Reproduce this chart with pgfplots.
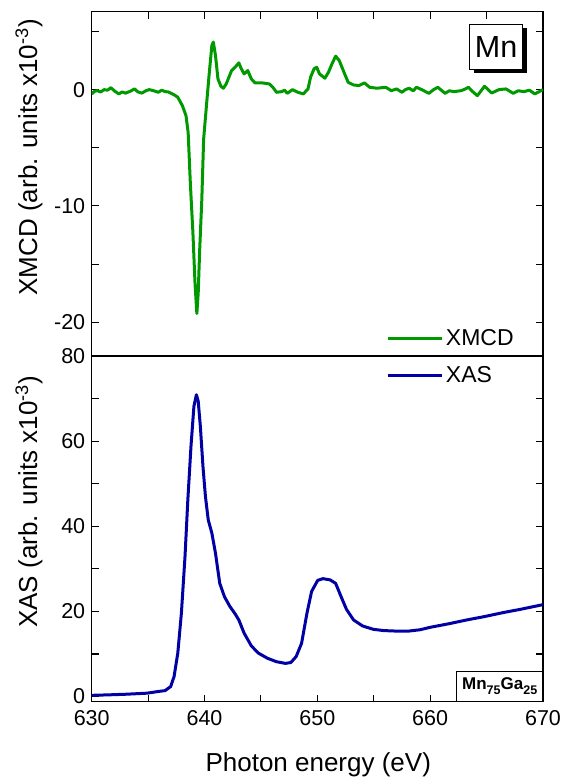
\documentclass[border=0pt]{standalone}
\usepackage{pgfplots}
\pgfplotsset{compat=1.18}
\usepackage{fontspec}
\setmainfont{Liberation Sans}
\usetikzlibrary{shadows}
\definecolor{xgreen}{RGB}{0,153,0}
\definecolor{xblue}{RGB}{0,0,165}
\newcommand{\tickfont}{\fontsize{21.5}{25}\selectfont}
\newcommand{\labfont}{\fontsize{26}{30}\selectfont}
\newcommand{\legfont}{\fontsize{23}{27}\selectfont}
\newcommand{\sub}[1]{\raisebox{-0.28em}{\fontsize{12.5}{13}\selectfont #1}}
\begin{document}
\begin{tikzpicture}
\pgfplotsset{
  common/.style={
    scale only axis, width=451.3pt,
    xmin=630, xmax=670,
    xtick={630,640,650,660,670}, minor x tick num=1,
    tick align=inside, major tick length=7pt, minor tick length=7pt,
    axis line style={line width=1.1pt}, every tick/.style={line width=1.1pt, black},
    ytick pos=both, yticklabel pos=left,
    /pgf/number format/assume math mode=true,
    ticklabel style={font=\tickfont},
    yticklabel style={xshift=-3pt},
    xticklabel style={yshift=-5pt},
    legend style={draw=none, fill=none, font=\legfont, inner sep=0pt, row sep=0pt,
      nodes={inner sep=2pt}},
    legend image code/.code={\draw[#1] (0pt,0pt) -- (54pt,0pt);},
    legend cell align=left,
  }
}
\begin{axis}[common, at={(0pt,345.7pt)}, anchor=south west, height=344.3pt,
  ymin=-22.9, ymax=6.7, ytick={-20,-10,0}, minor ytick={-15,-5,5},
  xtick pos=right, xticklabels={},
  ylabel={XMCD (arb. units x10\textsuperscript{-3})},
  ylabel style={font=\labfont, at={(axis description cs:-0.139,0.577)}, anchor=center},
  legend style={at={(axis description cs:0.6537,0.0514)}, anchor=west},
]
\addplot[xgreen, line width=3pt, line join=round] coordinates {
(630.0,-0.37) (630.25,-0.15) (630.48,-0.09) (630.8,-0.2) (631.1,0) (631.4,-0.05) (631.7,0.17) (632.0,-0.1)
(632.4,-0.37) (632.7,-0.2) (633.0,-0.3) (633.4,-0.15) (633.8,0.06) (634.1,-0.2) (634.45,-0.3) (634.8,-0.1)
(635.1,0) (635.5,-0.1) (635.9,-0.23) (636.2,-0.05) (636.5,-0.17) (636.8,-0.2) (637.15,-0.37) (637.4,-0.5)
(637.63,-0.66) (638.04,-1.38)
(638.36,-2.25) (638.55,-3.7) (638.74,-8.0) (638.97,-12.3) (639.16,-16.7) (639.32,-19.25) (639.44,-17.5)
(639.57,-13.8) (639.76,-9.45) (639.92,-4.27) (640.17,-1.38) (640.4,1.21) (640.65,3.8) (640.78,4.09)
(640.97,2.94) (641.19,0.92) (641.45,0.29) (641.67,0.12) (641.92,0.49) (642.4,1.64) (642.72,1.93)
(643.04,2.3) (643.26,1.79) (643.51,1.35) (643.83,1.64) (644.15,0.92) (644.47,0.58) (645.1,0.58)
(645.74,0.49) (646.06,0.2) (646.38,-0.23) (646.85,-0.17) (647.1,-0.05) (647.33,-0.32) (647.8,0) (648.28,-0.23)
(648.76,-0.37) (649.17,0.06) (649.4,1.07) (649.71,1.79) (649.94,1.93) (650.19,1.35) (650.67,0.98)
(650.99,1.5) (651.3,2.22) (651.62,2.88) (651.94,2.5) (652.42,1.35) (652.73,0.63) (653.21,0.4)
(653.69,0.35) (654.17,0.58) (654.64,0.2) (655.28,0.12) (656.07,0.2) (656.55,-0.09) (657.03,0.06)
(657.5,-0.23) (657.8,0) (658.14,0.12) (658.5,-0.1) (658.78,0.2) (659.25,0) (659.89,-0.32) (660.3,0) (660.68,0.2) (661.32,-0.32)
(661.7,-0.1) (662.11,-0.17) (662.75,-0.09) (663.1,0.05) (663.39,0.2) (663.8,-0.2) (664.18,-0.52) (664.82,0.29) (665.45,-0.29) (666.1,0) (666.72,0.06)
(667.36,-0.32) (667.8,-0.1) (668.31,-0.17) (668.8,-0.05) (669.27,-0.37) (670,0)
};
\addlegendentry{XMCD}
\node[draw, line width=0.9pt, fill=white, inner sep=0pt, minimum width=53pt, minimum height=45pt,
  font=\fontsize{30.5}{34}\selectfont,
  drop shadow={shadow xshift=4pt, shadow yshift=-4pt, opacity=1, fill=black}]
  at (axis description cs:0.896,0.898) {Mn};
\end{axis}
\begin{axis}[common, at={(0pt,0pt)}, anchor=south west, height=345.7pt,
  ymin=-1.2, ymax=80, ytick={0,20,40,60,80}, minor ytick={10,30,50,70},
  xtick pos=left,
  xlabel={Photon energy (eV)},
  xlabel style={font=\labfont, at={(axis description cs:0.502,-0.2025)}, anchor=base},
  ylabel={XAS (arb. units x10\textsuperscript{-3})},
  ylabel style={font=\labfont, at={(axis description cs:-0.139,0.578)}, anchor=center},
  legend style={at={(axis description cs:0.6537,0.943)}, anchor=west},
]
\addplot[xblue, line width=3pt, line join=round] coordinates {
(630,0.3) (631.4,0.4) (633.0,0.55) (634.9,0.8) (635.9,1.2) (636.5,1.4) (637.0,2.35) (637.3,4.7)
(637.63,10.2) (637.95,19.6) (638.27,32.9) (638.52,46.2) (638.8,58.8) (639.06,68.2) (639.28,70.9)
(639.44,69.4) (639.63,63.5) (639.86,54.1) (640.08,47.0) (640.33,41.5) (640.65,38.4) (640.97,33.7)
(641.35,26.6) (641.76,23.5) (642.24,21.2) (642.72,19.4) (643.04,18.0) (643.51,14.9) (644.15,11.9)
(644.78,10.2) (645.58,9.0) (646.37,8.2) (647.17,7.8) (647.65,8.0) (648.12,9.4) (648.6,12.5)
(649.08,19.6) (649.49,24.7) (650.03,27.3) (650.5,27.7) (651.14,27.4) (651.62,26.6) (652.1,23.5)
(652.58,20.5) (653.21,18.0) (654.0,16.6) (654.96,15.8) (655.91,15.5) (656.87,15.4) (658.14,15.4)
(659.1,15.7) (660.05,16.3) (661.64,17.1) (663.23,18.0) (664.82,18.8) (666.41,19.7) (668.0,20.5)
(670,21.6)
};
\addlegendentry{XAS}
\node[draw, line width=0.9pt, fill=white, inner sep=0pt, minimum width=85.7pt, minimum height=30pt,
  anchor=south east, font=\bfseries\fontsize{17}{19}\selectfont]
  at (rel axis cs:1,0) {Mn\sub{75}Ga\sub{25}};
\end{axis}
\pgfresetboundingbox
\path (-91.7pt,-76.3pt) rectangle (471.3pt,701.7pt);
\end{tikzpicture}
\end{document}
